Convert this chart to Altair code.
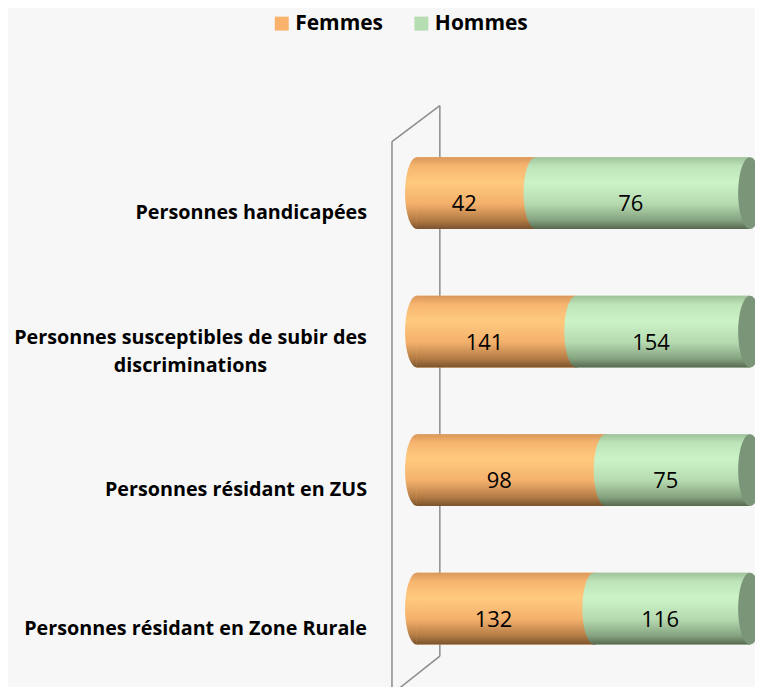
import altair as alt
import pandas as pd

categories = [
    "Personnes handicapées",
    "Personnes susceptibles de subir des|discriminations",
    "Personnes résidant en ZUS",
    "Personnes résidant en Zone Rurale",
]
femmes = [42, 141, 98, 132]
hommes = [76, 154, 75, 116]
series = ["Femmes", "Hommes"]
legend_colors = ["#f9b36c", "#b6dcb1"]

rows = []
for i, c in enumerate(categories):
    rows.append({"cat": c, "serie": "Femmes", "order": 0, "value": femmes[i], "idx": i})
    rows.append({"cat": c, "serie": "Hommes", "order": 1, "value": hommes[i], "idx": i})
df = pd.DataFrame(rows)

W, H = 334, 572
FONT = "Open Sans"

ycat = alt.Y("cat:N", sort=categories, axis=None,
             scale=alt.Scale(paddingInner=0.482, paddingOuter=0.3))
xs = alt.Scale(domain=[0, 1])

orange_grad = alt.Gradient(
    gradient="linear", x1=0, x2=0, y1=0, y2=1,
    stops=[alt.GradientStop(offset=0, color="#d9975a"),
           alt.GradientStop(offset=0.12, color="#f6b56f"),
           alt.GradientStop(offset=0.35, color="#ffca7e"),
           alt.GradientStop(offset=0.65, color="#f3b06c"),
           alt.GradientStop(offset=0.88, color="#b27a44"),
           alt.GradientStop(offset=1, color="#7a532d")])
green_grad = alt.Gradient(
    gradient="linear", x1=0, x2=0, y1=0, y2=1,
    stops=[alt.GradientStop(offset=0, color="#9fc29a"),
           alt.GradientStop(offset=0.12, color="#bde3b8"),
           alt.GradientStop(offset=0.35, color="#ccf3c7"),
           alt.GradientStop(offset=0.65, color="#b6dab0"),
           alt.GradientStop(offset=0.88, color="#84a27f"),
           alt.GradientStop(offset=1, color="#56684f")])

ELLIPSE = "M0,-1 A0.33,1 0 1,1 0,1 A0.33,1 0 1,1 0,-1 Z"
CAP_SIZE = 72 * 72

base = alt.Chart(df).transform_stack(
    stack="value", as_=["x0", "x1"], groupby=["cat"],
    offset="normalize", sort=[alt.SortField("order")]
).transform_calculate(mid="(datum.x0 + datum.x1) / 2")

one = pd.DataFrame({"a": [0]})
wall_color = "#8c8c8c"
wall = alt.layer(
    alt.Chart(one).mark_rule(color=wall_color, strokeWidth=1.5).encode(
        x=alt.value(-25), x2=alt.value(-25), y=alt.value(26), y2=alt.value(580)),
    alt.Chart(one).mark_rule(color=wall_color, strokeWidth=1.5).encode(
        x=alt.value(23), x2=alt.value(23), y=alt.value(-10), y2=alt.value(542)),
    alt.Chart(one).mark_rule(color=wall_color, strokeWidth=1.5).encode(
        x=alt.value(-25), x2=alt.value(23), y=alt.value(26), y2=alt.value(-10)),
    alt.Chart(one).mark_rule(color=wall_color, strokeWidth=1.5).encode(
        x=alt.value(23), x2=alt.value(-25), y=alt.value(542), y2=alt.value(580)),
)

left_cap = base.transform_filter(alt.datum.serie == "Femmes").mark_point(
    filled=True, shape=ELLIPSE, size=CAP_SIZE, opacity=1, fill=orange_grad, strokeWidth=0
).encode(x=alt.X("x0:Q", scale=xs, axis=None), y=ycat)

flat = base.mark_bar(size=72).encode(
    x=alt.X("x0:Q", scale=xs, axis=None), x2="x1:Q", y=ycat,
    color=alt.Color("serie:N", scale=alt.Scale(domain=series, range=legend_colors),
                    legend=alt.Legend(title=None, orient="none", direction="horizontal",
                                      legendX=-146, legendY=-103, symbolType="square",
                                      symbolSize=196, symbolStrokeWidth=0,
                                      labelFont=FONT, labelFontSize=21, labelFontWeight="bold",
                                      labelColor="#000000", labelOffset=3, columnPadding=27)),
)

fem_bar = base.transform_filter(alt.datum.serie == "Femmes").mark_bar(
    size=72, fill=orange_grad).encode(
    x=alt.X("x0:Q", scale=xs, axis=None), x2="x1:Q", y=ycat)
hom_bar = base.transform_filter(alt.datum.serie == "Hommes").mark_bar(
    size=72, fill=green_grad).encode(
    x=alt.X("x0:Q", scale=xs, axis=None), x2="x1:Q", y=ycat)

mid_cap = base.transform_filter(alt.datum.serie == "Hommes").mark_point(
    filled=True, shape=ELLIPSE, size=CAP_SIZE, opacity=1, fill=green_grad, strokeWidth=0
).encode(x=alt.X("x0:Q", scale=xs, axis=None), y=ycat)

right_cap = base.transform_filter(alt.datum.serie == "Hommes").mark_point(
    filled=True, shape=ELLIPSE, size=CAP_SIZE, opacity=1, fill="#7a9577", strokeWidth=0
).encode(x=alt.X("x1:Q", scale=xs, axis=None), y=ycat)

values = base.mark_text(font=FONT, fontSize=22, color="#000000", dy=11, dx=-12).encode(
    x=alt.X("mid:Q", scale=xs, axis=None), y=ycat, text="value:Q")

labels_df = pd.DataFrame({"cat": categories,
                          "lines": [c.split("|") for c in categories],
                          "multi": ["|" in c for c in categories]})
single_labels = alt.Chart(labels_df).transform_filter("!datum.multi").mark_text(
    font=FONT, fontSize=19.8, fontWeight="bold", align="right", dy=20, color="#000000"
).encode(x=alt.value(-50), y=ycat, text="lines")
multi_labels = alt.Chart(labels_df).transform_filter("datum.multi").mark_text(
    font=FONT, fontSize=19.8, fontWeight="bold", align="center", dy=6, lineHeight=29,
    color="#000000"
).encode(x=alt.value(-227), y=ycat, text="lines")

chart = alt.layer(
    wall, left_cap, flat, fem_bar, hom_bar, mid_cap, right_cap, values,
    single_labels, multi_labels
).properties(
    width=W, height=H, background="#f7f7f7",
    padding={"left": 410, "top": 107, "right": 5, "bottom": 0},
    autosize=alt.AutoSizeParams(type="none"),
).configure_view(stroke=None)

chart.save("out.html", embed_options={"renderer": "svg", "actions": False})
